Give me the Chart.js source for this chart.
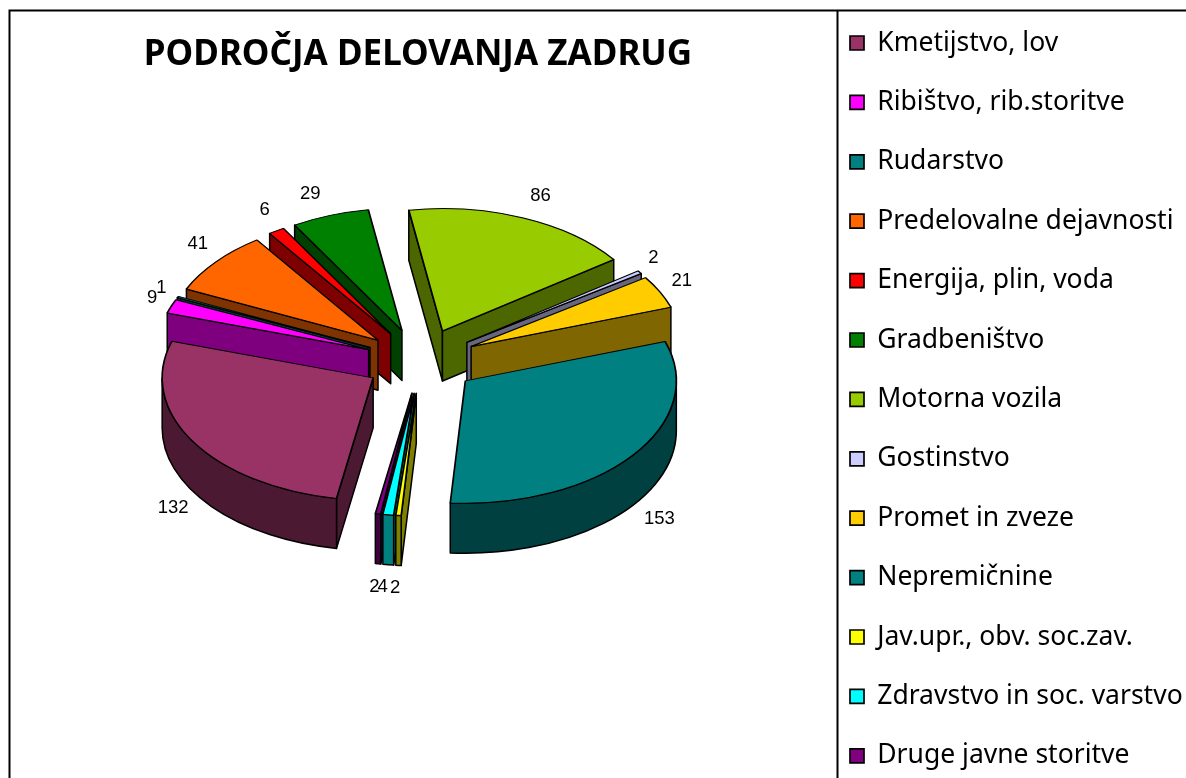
<!DOCTYPE html>
<html>
<head>
<meta charset="utf-8">
<title>Področja delovanja zadrug</title>
<script src="https://cdn.jsdelivr.net/npm/chart.js@4/dist/chart.umd.js"></script>
<style>
  html, body { margin: 0; padding: 0; background: #fff; overflow: hidden; width: 1186px; height: 778px; }
  canvas { display: block; }
</style>
</head>
<body>
<canvas id="zadrugeChart" width="1186" height="860"></canvas>
<script>
// Podatki
const categories = ['Kmetijstvo, lov', 'Ribištvo, rib.storitve', 'Rudarstvo', 'Predelovalne dejavnosti',
    'Energija, plin, voda', 'Gradbeništvo', 'Motorna vozila', 'Gostinstvo', 'Promet in zveze',
    'Nepremičnine', 'Jav.upr., obv. soc.zav.', 'Zdravstvo in soc. varstvo', 'Druge javne storitve'];
const values = [132, 9, 1, 41, 6, 29, 86, 2, 21, 153, 2, 4, 2];
const colors = ['#993366', '#FF00FF', '#008080', '#FF6600', '#FF0000', '#008000', '#99CC00',
    '#CCCCFF', '#FFCC00', '#008080', '#FFFF00', '#00FFFF', '#800080'];

// Izgled 3D torte
const pieCenterX = 421;
const pieCenterY = 361;
const squash = 0.58;
const depth = 50;
const explode = 56;
const pieRadius = 211;
const labelGap = 29;
// popravki oznak glede na izračunano mesto
const labelNudges = [[5, 8], [8, -2], [10, -2], [4, -7], [4, -7], [-10, -6], [6, -7],
    [-10, -5], [-4, -3], [4, 3], [-1, 6], [-2, 6], [1, 6]];

function darken(hex) {
    const n = parseInt(hex.slice(1), 16);
    return 'rgb(' + (n >> 17) + ',' + ((n >> 9) & 127) + ',' + ((n >> 1) & 127) + ')';
}

function drawWalls(ctx, arc, color) {
    const mid = (arc.startAngle + arc.endAngle) / 2;
    const cx = pieCenterX + explode * Math.cos(mid);
    const cy = pieCenterY + squash * explode * Math.sin(mid);
    const r = arc.outerRadius;
    ctx.fillStyle = color;
    ctx.strokeStyle = '#000';
    ctx.lineWidth = 1.5;
    ctx.lineJoin = 'round';

    const radial = (a) => {
        const ex = cx + r * Math.cos(a);
        const ey = cy + squash * r * Math.sin(a);
        ctx.beginPath();
        ctx.moveTo(cx, cy);
        ctx.lineTo(ex, ey);
        ctx.lineTo(ex, ey + depth);
        ctx.lineTo(cx, cy + depth);
        ctx.closePath();
        ctx.fill();
        ctx.stroke();
    };
    if (Math.cos(arc.startAngle) < 0) radial(arc.startAngle);
    if (Math.cos(arc.endAngle) > 0) radial(arc.endAngle);

    // zunanja stena, samo spredaj
    [0, 2 * Math.PI].forEach(base => {
        const a0 = Math.max(arc.startAngle, base);
        const a1 = Math.min(arc.endAngle, base + Math.PI);
        if (a1 <= a0) return;
        ctx.beginPath();
        ctx.ellipse(cx, cy, r, r * squash, 0, a0, a1);
        ctx.ellipse(cx, cy + depth, r, r * squash, 0, a1, a0, true);
        ctx.closePath();
        ctx.fill();
        ctx.stroke();
    });
}

const pie3d = {
    id: 'pie3d',
    afterLayout(chart) {
        // legenda ostane v desnem stolpcu
        const legend = chart.legend;
        const labels = legend.options.labels;
        legend.left = 850 - labels.padding;
        legend.right = 1186;
        legend.top = 43 - labels.padding - labels.font.size / 2;
        legend.bottom = 860;
    },
    beforeDraw(chart) {
        const ctx = chart.ctx;
        ctx.save();
        ctx.strokeStyle = '#000';
        ctx.lineWidth = 2;
        ctx.beginPath();
        ctx.moveTo(9.5, 860);
        ctx.lineTo(9.5, 10.5);
        ctx.lineTo(1186, 10.5);
        ctx.moveTo(837.5, 10.5);
        ctx.lineTo(837.5, 860);
        ctx.stroke();
        ctx.restore();
    },
    beforeDatasetDraw(chart, args) {
        const ctx = chart.ctx;
        const arcs = args.meta.data;
        const midSin = arc => Math.sin((arc.startAngle + arc.endAngle) / 2);
        const order = arcs.map((arc, i) => i).sort((a, b) => midSin(arcs[a]) - midSin(arcs[b]));

        ctx.save();
        order.forEach(i => drawWalls(ctx, arcs[i], darken(colors[i])));
        ctx.restore();

        order.forEach(i => {
            const arc = arcs[i];
            const mid = (arc.startAngle + arc.endAngle) / 2;
            ctx.save();
            ctx.translate(pieCenterX - arc.x + explode * Math.cos(mid), pieCenterY + squash * explode * Math.sin(mid));
            ctx.scale(1, squash);
            ctx.translate(0, -arc.y);
            arc.draw(ctx);
            ctx.restore();
        });
        return false;
    },
    afterDatasetsDraw(chart) {
        const ctx = chart.ctx;
        const arcs = chart.getDatasetMeta(0).data;
        ctx.save();
        ctx.font = '18.5px "Liberation Sans", Arial, sans-serif';
        ctx.fillStyle = '#000';
        ctx.textAlign = 'center';
        ctx.textBaseline = 'middle';
        arcs.forEach((arc, i) => {
            const mid = (arc.startAngle + arc.endAngle) / 2;
            const dist = arc.outerRadius + labelGap;
            const nudge = labelNudges[i];
            const x = pieCenterX + (explode + dist) * Math.cos(mid);
            let y = pieCenterY + squash * (explode + dist) * Math.sin(mid);
            if (Math.sin(mid) > 0) y += depth;
            ctx.fillText(String(values[i]), x + nudge[0], y + nudge[1]);
        });
        ctx.restore();
    }
};

new Chart(document.getElementById('zadrugeChart'), {
    type: 'pie',
    data: {
        labels: categories,
        datasets: [{
            data: values,
            backgroundColor: colors,
            borderColor: '#000',
            borderWidth: 1.7,
            rotation: 190,
            radius: pieRadius
        }]
    },
    options: {
        responsive: false,
        animation: false,
        layout: { padding: 0 },
        plugins: {
            tooltip: { enabled: false },
            title: {
                display: true,
                fullSize: false,
                text: 'PODROČJA DELOVANJA ZADRUG',
                color: '#000',
                font: { family: '"Noto Sans"', size: 35, weight: 'bold' },
                padding: { top: 34, bottom: 0 }
            },
            legend: {
                position: 'right',
                align: 'start',
                maxWidth: 350,
                labels: {
                    color: '#000',
                    boxWidth: 14,
                    boxHeight: 14,
                    padding: 32.9,
                    font: { family: '"Noto Sans"', size: 26.5 }
                }
            }
        }
    },
    plugins: [pie3d]
});
</script>
</body>
</html>
